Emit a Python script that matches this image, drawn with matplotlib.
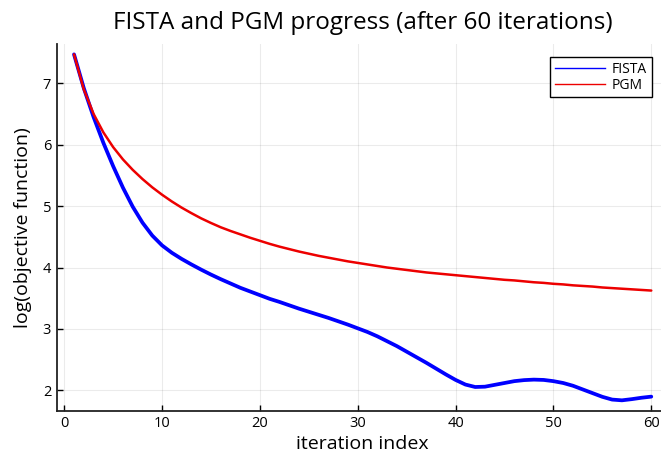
import numpy as np
import matplotlib
matplotlib.use("Agg")
import matplotlib.pyplot as plt
from matplotlib.lines import Line2D

iterations = list(range(1, 61))
fista = [7.47, 6.92, 6.45, 6.03, 5.65, 5.30, 4.99, 4.73, 4.52, 4.36,
         4.24, 4.14, 4.05, 3.965, 3.885, 3.81, 3.74, 3.67, 3.61, 3.55,
         3.49, 3.44, 3.385, 3.33, 3.28, 3.23, 3.18, 3.125, 3.07, 3.01,
         2.95, 2.88, 2.80, 2.72, 2.63, 2.54, 2.45, 2.355, 2.26, 2.17,
         2.095, 2.055, 2.06, 2.09, 2.12, 2.15, 2.167, 2.175, 2.17, 2.15,
         2.12, 2.075, 2.015, 1.955, 1.895, 1.85, 1.838, 1.857, 1.88, 1.898]
pgm = [7.47, 6.90, 6.50, 6.20, 5.96, 5.76, 5.59, 5.44, 5.305, 5.185,
       5.075, 4.975, 4.885, 4.80, 4.725, 4.655, 4.595, 4.54, 4.485, 4.435,
       4.385, 4.34, 4.30, 4.26, 4.225, 4.19, 4.16, 4.13, 4.10, 4.075,
       4.05, 4.025, 4.00, 3.98, 3.96, 3.94, 3.92, 3.905, 3.89, 3.875,
       3.86, 3.845, 3.83, 3.815, 3.80, 3.79, 3.775, 3.76, 3.75, 3.735,
       3.725, 3.71, 3.70, 3.69, 3.675, 3.665, 3.655, 3.645, 3.635, 3.625]
xticks = [0, 10, 20, 30, 40, 50, 60]
yticks = [2, 3, 4, 5, 6, 7]

plt.rcParams['font.family'] = ['Open Sans', 'DejaVu Sans']

fig = plt.figure(figsize=(6.61, 4.54), dpi=100)
ax = fig.add_axes([56.7/661, 43.3/454, (668.6-56.7)/661, (410.7-44)/454])

ax.plot(iterations, fista, color=(0, 0, 1), lw=2.7, solid_capstyle='round',
        solid_joinstyle='round', zorder=3)
ax.plot(iterations, pgm, color=(0.93, 0, 0), lw=1.8, solid_capstyle='round',
        solid_joinstyle='round', zorder=3)

xr = max(iterations) - min(iterations)
ax.set_xlim(min(iterations) - 0.03 * xr, max(iterations) + 0.03 * xr)
allv = fista + pgm
yr = max(allv) - min(allv)
ax.set_ylim(min(allv) - 0.03 * yr, max(allv) + 0.03 * yr)

ax.set_xticks(xticks)
ax.set_yticks(yticks)
ax.tick_params(direction='in', length=4, width=1, labelsize=10.5, colors='black', pad=4)
ax.grid(True, color='black', alpha=0.08, lw=0.8)
for s in ['top', 'right']:
    ax.spines[s].set_visible(False)
for s in ['left', 'bottom']:
    ax.spines[s].set_linewidth(1.3)
    ax.spines[s].set_color('#222222')

ax.set_xlabel('iteration index', fontsize=14, labelpad=3)
ax.set_ylabel('log(objective function)', fontsize=14, labelpad=8)
ax.set_title('FISTA and PGM progress (after 60 iterations)', fontsize=17.5, pad=11)

handles = [Line2D([], [], color=(0, 0, 1), lw=1.0), Line2D([], [], color=(0.93, 0, 0), lw=1.0)]
leg = ax.legend(handles, ['FISTA', 'PGM'], loc='upper right',
                bbox_to_anchor=((652-56.7)/(668.6-56.7), (410.7-57)/(410.7-44)),
                fontsize=10, frameon=True, fancybox=False, edgecolor='black', framealpha=1,
                handlelength=3.6, handletextpad=0.5, borderpad=0.35, labelspacing=0.05,
                borderaxespad=0)
leg.get_frame().set_linewidth(1.0)

fig.savefig('out.png', dpi=100)
